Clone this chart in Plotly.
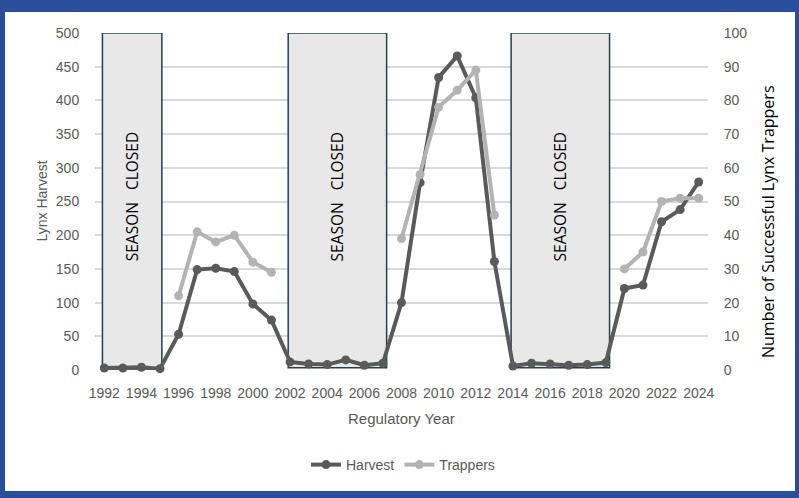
import plotly.graph_objects as go

years = list(range(1992, 2025))
harvest = [3, 3, 4, 2, 53, 149, 151, 146, 98, 74,
           12, 9, 8, 15, 7, 10,
           100, 278, 434, 466, 404, 161,
           6, 10, 9, 7, 8, 11,
           121, 126, 220, 238, 279]
trappers = [None, None, None, None, 22, 41, 38, 40, 32, 29,
            None, None, None, None, None, None,
            39, 58, 78, 83, 89, 46,
            None, None, None, None, None, None,
            30, 35, 50, 51, 51]
closed_periods = [(1992, 1995), (2002, 2007), (2014, 2019)]
x_ticks = list(range(1992, 2025, 2))
left_ticks = list(range(0, 501, 50))
right_ticks = list(range(0, 101, 10))

HARV = "#5a5a5a"
TRAP = "#b3b3b3"
GRID = "#d9d9d9"
TICKC = "#595959"
BLUE = "#2b4e9c"

fig = go.Figure()
fig.add_trace(go.Scatter(x=years, y=harvest, name="Harvest", mode="lines+markers",
                         line=dict(color=HARV, width=4), marker=dict(color=HARV, size=9),
                         cliponaxis=False, yaxis="y"))
fig.add_trace(go.Scatter(x=years, y=trappers, name="Trappers", mode="lines+markers",
                         line=dict(color=TRAP, width=4), marker=dict(color=TRAP, size=9),
                         cliponaxis=False, yaxis="y2", connectgaps=False))

shapes = []
# white inner panel on blue frame
shapes.append(dict(type="rect", xref="paper", yref="paper",
                   x0=(5 - 95) / 613, x1=(795 - 95) / 613,
                   y0=(370 - 491) / 337, y1=(370 - 12) / 337,
                   fillcolor="white", line=dict(width=0), layer="below"))
annotations = []
for i, (a, b) in enumerate(closed_periods):
    x0 = max(a - 0.1, 1991.5)
    x1 = b + (0.1 if i == 0 else 0.2)
    y0 = 0 if i == 0 else 3.5
    shapes.append(dict(type="rect", xref="x", yref="y", x0=x0, x1=x1, y0=y0, y1=500,
                       fillcolor="#e8e8e8", line=dict(color="#23404f", width=1.5),
                       layer="between"))
    annotations.append(dict(x=(x0 + x1) / 2, y=258, xref="x", yref="y",
                            xanchor="center", yanchor="middle",
                            text="SEASON\u00a0\u00a0\u00a0CLOSED", textangle=-90,
                            showarrow=False, font=dict(family="Open Sans", size=15.5, color="black")))

annotations.append(dict(x=(41 - 95) / 613, y=0.5, xref="paper", yref="paper",
                        xanchor="center", yanchor="middle",
                        text="Lynx Harvest", textangle=-90, showarrow=False,
                        font=dict(family="Liberation Sans", size=14, color=TICKC)))
annotations.append(dict(x=(768 - 95) / 613, y=(370 - 222) / 337, xref="paper", yref="paper",
                        xanchor="center", yanchor="middle",
                        text="Number of Successful Lynx Trappers", textangle=-90, showarrow=False,
                        font=dict(family="Open Sans", size=16, color="black")))
annotations.append(dict(x=(401 - 95) / 613, y=(370 - 418) / 337, xref="paper", yref="paper",
                        xanchor="center", yanchor="middle",
                        text="Regulatory Year", showarrow=False,
                        font=dict(family="Liberation Sans", size=15, color=TICKC)))

fig.update_layout(
    width=799, height=498, autosize=False,
    margin=dict(l=95, r=91, t=33, b=128),
    paper_bgcolor=BLUE, plot_bgcolor="white",
    shapes=shapes, annotations=annotations,
    font=dict(family="Liberation Sans", size=14, color=TICKC),
    xaxis=dict(range=[1991.5, 2024.5], tickvals=x_ticks, showgrid=False, zeroline=False,
               showline=False, ticks="outside", ticklen=10, tickcolor="rgba(0,0,0,0)",
               tickfont=dict(size=14, color=TICKC)),
    yaxis=dict(range=[0, 500], tickvals=left_ticks, showgrid=True, gridcolor=GRID, gridwidth=1.5,
               zeroline=False, showline=False, ticks="outside", ticklen=12,
               tickcolor="rgba(0,0,0,0)", tickfont=dict(size=14, color=TICKC)),
    yaxis2=dict(range=[0, 100], tickvals=right_ticks, overlaying="y", side="right",
                showgrid=False, zeroline=False, showline=False, ticks="outside", ticklen=12,
                tickcolor="rgba(0,0,0,0)", tickfont=dict(size=14, color=TICKC)),
    legend=dict(orientation="h", x=(403 - 95) / 613, xanchor="center",
                y=(370 - 465) / 337, yanchor="middle", bgcolor="rgba(0,0,0,0)",
                font=dict(size=14, color=TICKC)),
    showlegend=True,
)

fig.write_html("out.html", config={"displayModeBar": False},
               post_script="document.body.style.margin='0';document.body.style.overflow='hidden';")
